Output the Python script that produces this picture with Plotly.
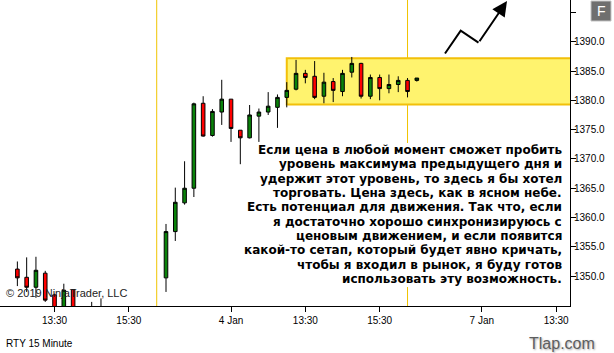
import plotly.graph_objects as go

# ---------------- data ----------------
bar_index = [-16, -15, -14, -13, -12, -11, -10, -8, -7,
             0, 1, 2, 3, 4, 5, 6, 7, 8, 9, 10, 11, 12, 13,
             14, 15, 16, 17, 18, 19, 20, 21, 22, 23, 24, 25, 26, 27]
open_ = [1351.2, 1349.8, 1348.1, 1350.5, 1346.8, 1344.2, 1347.7, 1344.6, 1344.7,
         1349.7, 1357.6, 1362.5, 1365.0, 1379.5, 1374.0, 1378.0, 1380.2, 1374.9, 1373.6,
         1377.3, 1378.0, 1378.8, 1380.5, 1381.9, 1384.6, 1384.1, 1380.7, 1383.2, 1381.5,
         1384.8, 1386.3, 1380.7, 1383.9, 1382.0, 1382.7, 1383.4, 1383.4]
high = [1352.5, 1353.2, 1353.3, 1350.9, 1347.0, 1348.7, 1347.8, 1345.6, 1346.2,
        1358.9, 1365.1, 1369.6, 1379.6, 1380.7, 1378.5, 1383.5, 1380.2, 1374.9, 1379.2,
        1378.6, 1381.4, 1381.0, 1383.1, 1386.9, 1385.2, 1386.7, 1384.7, 1383.8, 1385.2,
        1387.4, 1386.4, 1384.4, 1384.4, 1384.4, 1384.1, 1383.8, 1383.8]
low = [1348.3, 1347.3, 1346.3, 1345.6, 1343.0, 1343.5, 1343.0, 1343.2, 1343.4,
       1347.3, 1356.0, 1362.2, 1363.5, 1373.8, 1373.8, 1375.8, 1372.9, 1369.1, 1373.5,
       1372.9, 1377.5, 1375.3, 1378.8, 1381.7, 1382.9, 1380.2, 1379.5, 1379.7, 1380.7,
       1383.9, 1380.3, 1380.2, 1380.0, 1381.2, 1381.4, 1380.5, 1383.2]
close = [1349.7, 1348.1, 1351.0, 1345.9, 1344.0, 1347.6, 1344.0, 1344.2, 1344.3,
         1357.6, 1362.6, 1365.0, 1379.4, 1373.9, 1378.1, 1380.2, 1375.2, 1373.6, 1377.5,
         1378.0, 1379.0, 1380.5, 1381.7, 1384.6, 1383.9, 1380.5, 1383.1, 1381.7, 1384.6,
         1386.3, 1380.7, 1383.9, 1382.0, 1382.7, 1383.4, 1381.5, 1383.8]

x_tick_pos = [-12, -4, 7, 15, 23, 34, 42]
x_tick_text = ["13:30", "15:30", "4 Jan", "13:30", "15:30", "7 Jan", "13:30"]
y_tick_vals = [1350, 1355, 1360, 1365, 1370, 1375, 1380, 1385, 1390, 1395]
y_tick_text = ["1350.0", "1355.0", "1360.0", "1365.0", "1370.0", "1375.0",
               "1380.0", "1385.0", "1390.0", ""]
session_breaks = [-1, 26]
zone_start = 13
zone_low, zone_high = 1379.3, 1387.2

note_lines = [
    "Если цена в любой момент сможет пробить",
    "уровень максимума предыдущего дня и",
    "удержит этот уровень, то здесь я бы хотел",
    "торговать. Цена здесь, как в ясном небе.",
    "Есть потенциал для движения. Так что, если",
    "я достаточно хорошо синхронизируюсь с",
    "ценовым движением, и если появится",
    "какой-то сетап, который будет явно кричать,",
    "чтобы я входил в рынок, я буду готов",
    "использовать эту возможность.",
]

# ---------------- figure ----------------
W, H = 614, 353
PW, PH = 570, 306  # plot area in px


def px(x):
    return x / PW


def py(y):
    return (PH - y) / PH


fig = go.Figure()
fig.add_trace(go.Candlestick(
    x=bar_index, open=open_, high=high, low=low, close=close,
    increasing=dict(fillcolor="#0a820a", line=dict(color="black", width=1)),
    decreasing=dict(fillcolor="#ff0000", line=dict(color="black", width=1)),
    whiskerwidth=0, showlegend=False, hoverinfo="skip",
))

shapes = []
# resistance zone
shapes.append(dict(type="rect", xref="x", yref="y", x0=zone_start, x1=60,
                   y0=zone_low, y1=zone_high, fillcolor="#fff36e",
                   line=dict(color="#f2c00a", width=2), layer="below"))
# session break lines
for sb in session_breaks:
    shapes.append(dict(type="line", xref="x", yref="paper", x0=sb, x1=sb, y0=0, y1=1,
                       line=dict(color="#f0c400", width=1), layer="below"))
# white background of the note
shapes.append(dict(type="rect", xref="paper", yref="paper", x0=px(254), x1=px(566),
                   y0=py(287), y1=py(143), fillcolor="white", line=dict(width=0),
                   layer="below"))
# zig-zag arrow body
shapes.append(dict(type="path", xref="paper", yref="paper",
                   path=f"M{px(445)},{py(53.5)} L{px(460.7)},{py(30.7)} L{px(478.5)},{py(42.7)}",
                   line=dict(color="black", width=2)))
# F button
shapes.append(dict(type="rect", xref="paper", yref="paper", x0=px(591), x1=px(611),
                   y0=py(21), y1=py(1), fillcolor="#6f6f6f",
                   line=dict(color="#c4c4c4", width=1)))

annotations = []
annotations.append(dict(xref="paper", yref="paper", x=px(507), y=py(0.5),
                        ax=478.5 - 507, ay=42.7 - 0.5, axref="pixel", ayref="pixel",
                        showarrow=True, arrowhead=2, arrowsize=1.5, arrowwidth=2,
                        arrowcolor="black", text=""))
for k, line in enumerate(note_lines):
    annotations.append(dict(xref="paper", yref="paper", x=px(564), y=py(150 + k * 14.33),
                            xanchor="right", yanchor="middle", showarrow=False,
                            text=line, align="right",
                            font=dict(family="DejaVu Sans", size=12, color="black",
                                      weight="bold")))
annotations.append(dict(xref="paper", yref="paper", x=px(4), y=py(293),
                        xanchor="left", yanchor="middle", showarrow=False,
                        text="© 2019 NinjaTrader, LLC",
                        font=dict(family="Liberation Sans, Arial", size=11, color="#222222")))
annotations.append(dict(xref="paper", yref="paper", x=px(4), y=py(343),
                        xanchor="left", yanchor="middle", showarrow=False,
                        text="RTY 15 Minute",
                        font=dict(family="Liberation Sans, Arial", size=10, color="black")))
annotations.append(dict(xref="paper", yref="paper", x=px(562), y=py(343),
                        xanchor="center", yanchor="middle", showarrow=False,
                        text="Tlap.com",
                        font=dict(family="Liberation Sans, Arial", size=16, color="#5e5e5e",
                                  shadow="1px 1px 2px #a8a8a8")))
annotations.append(dict(xref="paper", yref="paper", x=px(601), y=py(11),
                        xanchor="center", yanchor="middle", showarrow=False,
                        text="F",
                        font=dict(family="Liberation Sans, Arial", size=14, color="white")))

fig.update_layout(
    width=W, height=H,
    margin=dict(l=0, r=W - PW, t=0, b=H - PH),
    paper_bgcolor="white", plot_bgcolor="white",
    boxgap=0.45,
    shapes=shapes, annotations=annotations,
    font=dict(family="Liberation Sans, Arial", size=10, color="black"),
    xaxis=dict(range=[-17.87, 43.49], rangeslider=dict(visible=False),
               tickmode="array", tickvals=x_tick_pos, ticktext=x_tick_text,
               ticks="outside", ticklen=5, tickcolor="black",
               showline=True, linecolor="black", linewidth=1,
               showgrid=False, zeroline=False, fixedrange=True),
    yaxis=dict(range=[1344.90, 1397.12], side="right",
               tickmode="array", tickvals=y_tick_vals, ticktext=y_tick_text,
               ticks="outside", ticklen=5, tickcolor="black",
               ticklabelstandoff=-4,
               showline=True, linecolor="black", linewidth=1,
               showgrid=False, zeroline=False, fixedrange=True),
)

fig.write_html("out.html", config={"displayModeBar": False})
